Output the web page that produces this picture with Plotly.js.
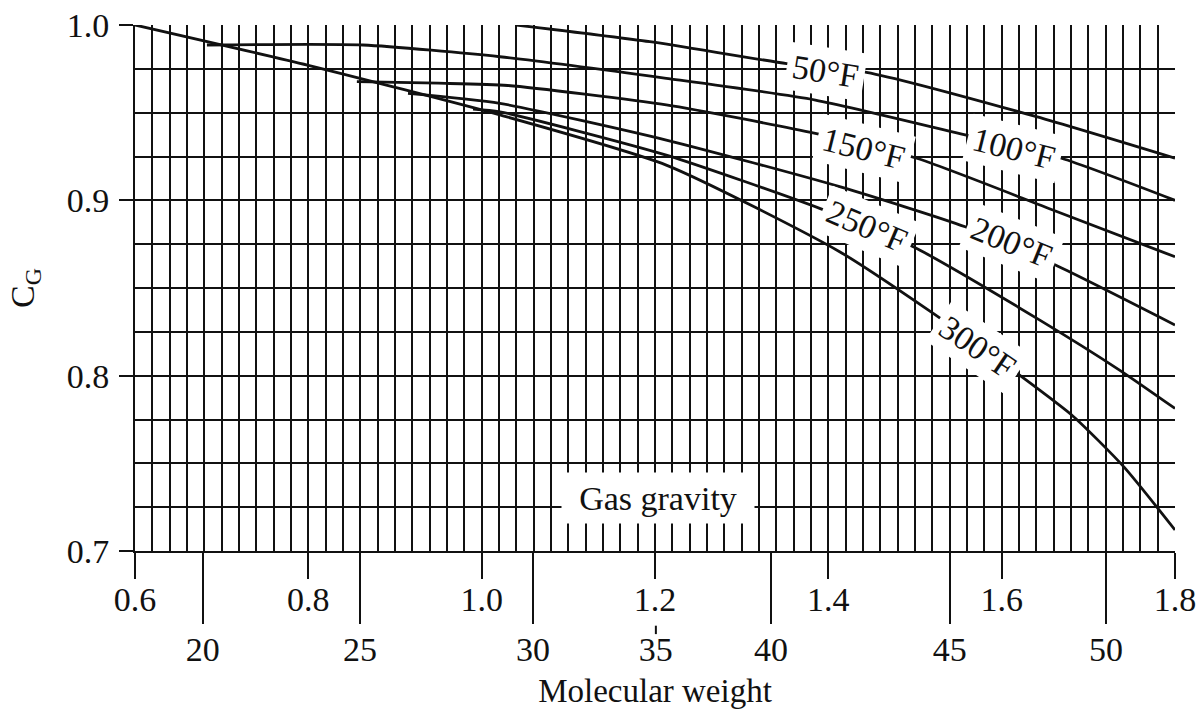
<!DOCTYPE html>
<html><head><meta charset="utf-8">
<script src="https://cdn.plot.ly/plotly-3.0.1.min.js"></script>
<style>html,body{margin:0;padding:0;background:#fff}#chart{width:1200px;height:717px}</style>
</head><body><div id="chart"></div>
<script>
// ---- data ----
const sg50  = [1.04, 1.194, 1.352, 1.444, 1.640, 1.8];
const cg50  = [1.000, 0.9905, 0.978, 0.973, 0.9477, 0.924];
const sg100 = [0.683, 0.863, 1.021, 1.213, 1.385, 1.558, 1.669, 1.8];
const cg100 = [0.9886, 0.9886, 0.9819, 0.9696, 0.9572, 0.9373, 0.924, 0.900];
const sg150 = [0.856, 0.95, 1.03, 1.213, 1.385, 1.502, 1.659, 1.8];
const cg150 = [0.9677, 0.9668, 0.9655, 0.9544, 0.9382, 0.924, 0.8945, 0.8678];
const sg200 = [0.915, 1.021, 1.213, 1.413, 1.558, 1.662, 1.8];
const cg200 = [0.961, 0.9553, 0.9344, 0.9078, 0.8849, 0.8631, 0.8289];
const sg250 = [0.99, 1.021, 1.213, 1.390, 1.498, 1.644, 1.736, 1.8];
const cg250 = [0.952, 0.9505, 0.9258, 0.8954, 0.8735, 0.8317, 0.8032, 0.7813];
const sg300 = [0.6, 0.8, 1.021, 1.213, 1.413, 1.521, 1.623, 1.683, 1.741, 1.8];
const cg300 = [1.000, 0.977, 0.9487, 0.9201, 0.8707, 0.8355, 0.7994, 0.7766, 0.748, 0.712];

const tempLabels = ['50°F', '100°F', '150°F', '200°F', '250°F', '300°F'];
const mwTickText = ['20', '25', '30', '35', '40', '45', '50'];
const mwTickPos  = [0.6782, 0.8595, 1.0593, 1.201, 1.3339, 1.540, 1.7204]; // gas-gravity positions of MW ticks

// ---- label placement (not data) ----
const labelX = [1.397, 1.614, 1.441, 1.612, 1.445, 1.573];
const labelY = [0.9732, 0.9293, 0.9298, 0.8762, 0.8848, 0.8163];
const labelAngle = [9, 14, 14, 22, 23, 34];

const FONT = '"Liberation Serif", "Times New Roman", "DejaVu Serif", serif';
const INK = '#111';

const series = [[sg50, cg50], [sg100, cg100], [sg150, cg150], [sg200, cg200], [sg250, cg250], [sg300, cg300]];
const traces = series.map((s, i) => ({
  x: s[0], y: s[1], type: 'scatter', mode: 'lines', name: tempLabels[i],
  line: {color: INK, width: 2.8, shape: 'spline', smoothing: 0.6},
  hoverinfo: 'skip'
}));
traces.push({x: [], y: [], xaxis: 'x2', type: 'scatter', mode: 'lines', hoverinfo: 'skip', showlegend: false});
traces.push({x: [], y: [], xaxis: 'x3', type: 'scatter', mode: 'lines', hoverinfo: 'skip', showlegend: false});

const i35 = mwTickText.indexOf('35');
const mwPosMain = mwTickPos.filter((_, i) => i !== i35);
const mwTextMain = mwTickText.filter((_, i) => i !== i35);

const annotations = tempLabels.map((t, i) => ({
  text: t, x: labelX[i], y: labelY[i], xref: 'x', yref: 'y', showarrow: false,
  textangle: labelAngle[i], bgcolor: '#fff', borderpad: 5,
  font: {family: FONT, size: 34, color: INK}
}));
annotations.push({
  text: 'Gas gravity', x: 1.2035, y: 0.7302, xref: 'x', yref: 'y', showarrow: false,
  bgcolor: '#fff', width: 188, height: 46, borderpad: 2,
  font: {family: FONT, size: 34, color: INK}
});

const layout = {
  width: 1200, height: 717,
  margin: {l: 135, r: 25, t: 25, b: 166},
  paper_bgcolor: '#fff', plot_bgcolor: '#fff', showlegend: false,
  font: {family: FONT, color: INK},
  xaxis: {
    range: [0.6, 1.8], tick0: 0.6, dtick: 0.2, tickformat: '.1f',
    ticks: 'outside', ticklen: 26, tickwidth: 2, tickcolor: INK,
    showline: true, linecolor: INK, linewidth: 2, zeroline: false,
    showgrid: true, gridcolor: INK, gridwidth: 2,
    minor: {dtick: 0.02, tick0: 0.6, showgrid: true, gridcolor: INK, gridwidth: 2, ticks: ''},
    tickfont: {family: FONT, size: 34, color: INK}, ticklabelstandoff: -9, fixedrange: true
  },
  xaxis2: {
    overlaying: 'x', side: 'bottom', anchor: 'y', range: [0.6, 1.8],
    tickmode: 'array', tickvals: mwPosMain, ticktext: mwTextMain,
    ticks: 'outside', ticklen: 72, tickwidth: 2, tickcolor: INK,
    showgrid: false, zeroline: false, showline: false,
    tickfont: {family: FONT, size: 34, color: INK}, ticklabelstandoff: -4,
    title: {text: 'Molecular weight', font: {family: FONT, size: 33, color: INK}, standoff: 12},
    fixedrange: true
  },
  xaxis3: {
    overlaying: 'x', side: 'bottom', anchor: 'y', range: [0.6, 1.8],
    tickmode: 'array', tickvals: [mwTickPos[i35]], ticktext: [mwTickText[i35]],
    ticks: 'outside', ticklen: 72, tickwidth: 2, tickcolor: 'rgba(0,0,0,0)',
    showgrid: false, zeroline: false, showline: false,
    tickfont: {family: FONT, size: 34, color: INK}, ticklabelstandoff: -4, fixedrange: true
  },
  yaxis: {
    range: [0.7, 1.0], tick0: 0.7, dtick: 0.1, tickformat: '.1f',
    ticks: 'outside', ticklen: 14, tickwidth: 2, tickcolor: INK,
    showline: true, linecolor: INK, linewidth: 2, zeroline: false,
    showgrid: true, gridcolor: INK, gridwidth: 2,
    minor: {dtick: 0.025, tick0: 0.7, showgrid: true, gridcolor: INK, gridwidth: 2, ticks: ''},
    tickfont: {family: FONT, size: 34, color: INK}, ticklabelstandoff: 3,
    title: {text: 'C<sub>G</sub>', font: {family: FONT, size: 34, color: INK}, standoff: 22},
    fixedrange: true
  },
  annotations: annotations,
  shapes: [{
    type: 'line', xref: 'x', yref: 'paper',
    x0: mwTickPos[i35], x1: mwTickPos[i35], y0: -0.142, y1: -0.158,
    line: {color: INK, width: 2}
  }]
};

Plotly.newPlot('chart', traces, layout, {staticPlot: true, displayModeBar: false});
</script>
</body></html>
